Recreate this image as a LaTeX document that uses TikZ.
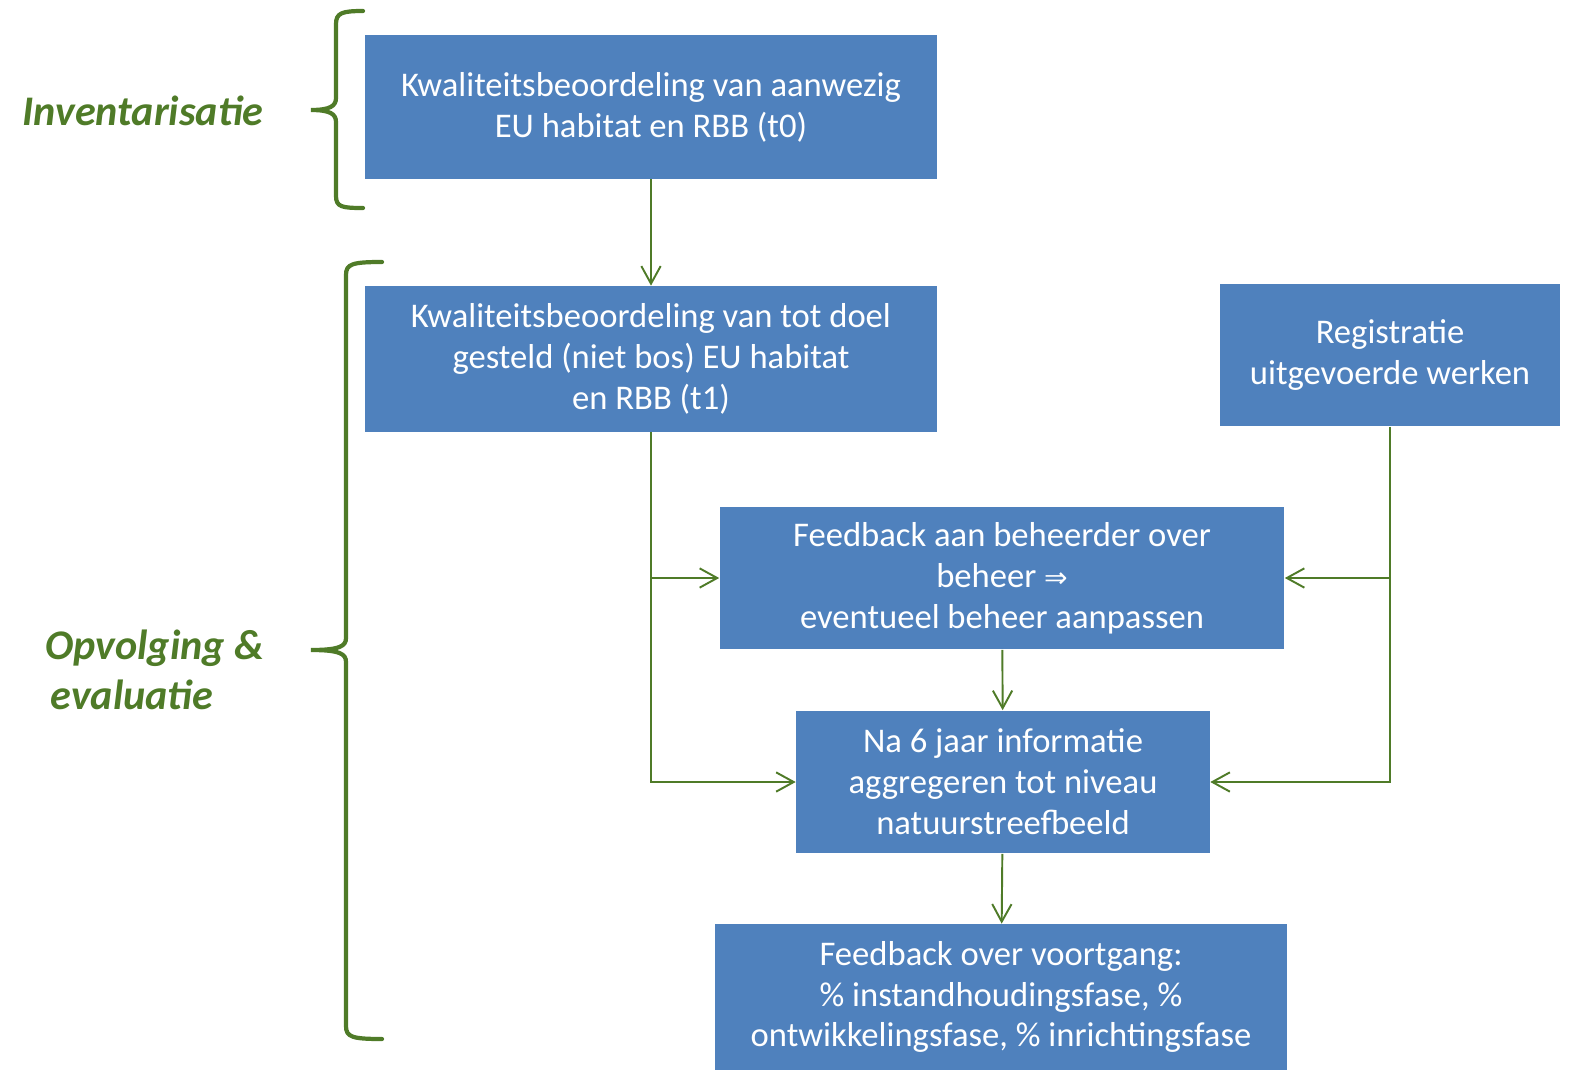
\documentclass[tikz,border=0pt]{standalone}
\usepackage{fontspec}
\setmainfont{Carlito}
\newfontfamily\arrowfont{DejaVu Sans}
\usetikzlibrary{arrows.meta}

\definecolor{boxblue}{HTML}{4F81BD}
\definecolor{leafgreen}{HTML}{4F7B28}

\tikzset{
  stepbox/.style={draw=none, fill=boxblue, text=white, align=center,
    inner sep=0pt, font=\fontsize{19.7}{23.3}\selectfont},
  flow/.style={draw=leafgreen, line width=1.1pt,
    -{Straight Barb[length=10pt,width=11pt,line width=1.1pt]}},
  brace/.style={draw=leafgreen, line width=2.4pt, line cap=round},
  phase/.style={text=leafgreen, align=left, inner sep=0pt,
    font=\fontsize{24}{28.3}\selectfont\bfseries\itshape}
}

\begin{document}
\begin{tikzpicture}[x=0.02cm, y=-0.02cm]
  \useasboundingbox (0,0) rectangle (1576,1075);

  % --- Boxes ---
  \node[stepbox, minimum width=11.44cm, minimum height=2.88cm] (t0) at (651,107)
    {Kwaliteitsbeoordeling van aanwezig\\EU habitat en RBB (t0)};
  \node[stepbox, minimum width=11.44cm, minimum height=2.92cm] (t1) at (651,359)
    {Kwaliteitsbeoordeling van tot doel\\gesteld (niet bos) EU habitat\\en RBB (t1)};
  \node[stepbox, minimum width=6.8cm, minimum height=2.86cm] (reg) at (1390,355)
    {Registratie\\uitgevoerde werken};
  \node[stepbox, minimum width=11.3cm, minimum height=2.86cm] (beheer) at (1002,578)
    {Feedback aan beheerder over\\beheer {\arrowfont\fontsize{16}{16}\selectfont ⇒}\\eventueel beheer aanpassen};
  \node[stepbox, minimum width=8.28cm, minimum height=2.86cm] (aggr) at (1003,782)
    {Na 6 jaar informatie\\aggregeren tot niveau\\natuurstreefbeeld};
  \node[stepbox, minimum width=11.44cm, minimum height=2.92cm] (voort) at (1001,997)
    {Feedback over voortgang:\\\% instandhoudingsfase, \%\\ontwikkelingsfase, \% inrichtingsfase};

  % --- Phase labels ---
  \node[phase, anchor=center] (inv) at (143,111) {Inventarisatie};
  \node[phase, anchor=west] (opv) at (45,670) {Opvolging \&\\\hspace*{3pt}evaluatie};

  % --- Connectors ---
  \coordinate (lsplit) at (t1.south |- beheer.west);
  \coordinate (rsplit) at (reg.south |- beheer.east);
  \draw[flow] (t0) -- (t1);
  \draw[flow] (t1.south) |- (aggr.west);
  \draw[flow] (lsplit) -- (beheer.west);
  \draw[flow] (reg.south) |- (aggr.east);
  \draw[flow] (rsplit) -- (beheer.east);
  \draw[flow] (beheer) -- (aggr);
  \draw[flow] (aggr) -- (voort);

  % --- Braces ---
  \draw[brace] (363,11) .. controls (342,11) and (336,13) .. (336,24) -- (336,98)
    .. controls (336,106) and (330,110) .. (311,110)
    .. controls (330,110) and (336,114) .. (336,122) -- (336,196)
    .. controls (336,207) and (342,208) .. (363,208);
  \draw[brace] (382,262) .. controls (352,262) and (346,264) .. (346,275) -- (346,638)
    .. controls (346,646) and (340,650) .. (311,650)
    .. controls (340,650) and (346,654) .. (346,662) -- (346,1026)
    .. controls (346,1037) and (352,1039) .. (382,1039);
\end{tikzpicture}
\end{document}
